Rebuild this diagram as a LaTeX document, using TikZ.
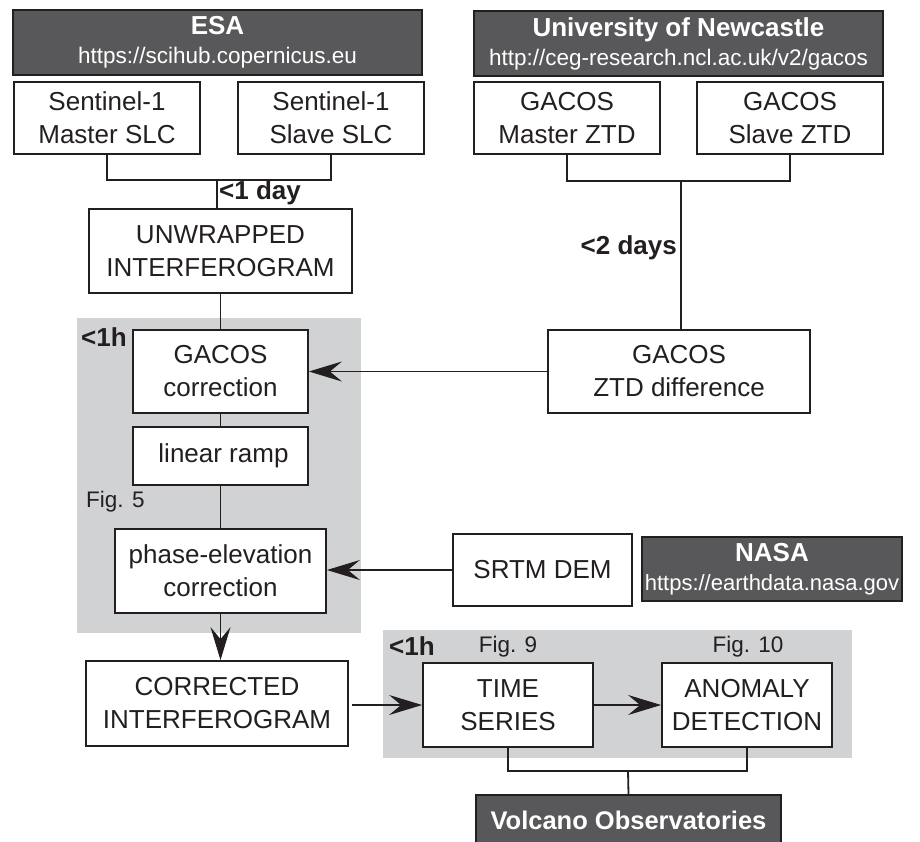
\documentclass[tikz,border=0pt]{standalone}
\usepackage{fontspec}
\setmainfont{Liberation Sans}
\usetikzlibrary{arrows.meta}
\definecolor{ink}{HTML}{231F20}
\definecolor{hdr}{HTML}{58585A}
\definecolor{zone}{HTML}{D1D2D4}
\begin{document}
\begin{tikzpicture}[x=1pt,y=-1pt,
  box/.style={draw=ink, line width=1.8pt, fill=white, inner sep=0pt, align=center, text=ink, font=\fontsize{26}{33}\selectfont},
  hdrbox/.style={draw=ink, line width=1.5pt, fill=hdr, inner sep=0pt, align=center, text=white, font=\fontsize{22.5}{29}\selectfont},
  conn/.style={draw=ink, line width=1.8pt},
  arr/.style={conn, -{Stealth[length=33pt,width=20pt,inset=12pt,line width=1pt]}},
  lbl/.style={inner sep=0pt, text=ink, font=\fontsize{26}{30}\selectfont\bfseries},
  figlbl/.style={inner sep=0pt, text=ink, font=\fontsize{22.5}{27}\selectfont},
]
\useasboundingbox (0,0) rectangle (920,841);
\fill[white] (0,0) rectangle (920,841);
% grey zones
\fill[zone] (77,318) rectangle (361,633);
\fill[zone] (383,630) rectangle (852,758);

% headers
\node[hdrbox, minimum width=409pt, minimum height=65pt] (esa) at (217.5,42.5)
  {{\fontsize{26}{29}\selectfont\bfseries ESA}\\https://scihub.copernicus.eu};
\node[hdrbox, minimum width=409pt, minimum height=65pt] (uni) at (678.5,43.5)
  {{\fontsize{26}{29}\selectfont\bfseries University of Newcastle}\\http://ceg-research.ncl.ac.uk/v2/gacos};
\node[hdrbox, minimum width=260pt, minimum height=64pt, font=\fontsize{22}{29}\selectfont] (nasa) at (772,569)
  {{\fontsize{26}{29}\selectfont\bfseries NASA}\\https://earthdata.nasa.gov};
\node[hdrbox, minimum width=305pt, minimum height=50pt, font=\fontsize{25.5}{29}\selectfont\bfseries] (volc) at (628.5,820)
  {Volcano Observatories};

% boxes
\node[box, minimum width=186pt, minimum height=72pt] (mslc) at (107,118) {Sentinel-1\\Master SLC};
\node[box, minimum width=186pt, minimum height=72pt] (sslc) at (331,118) {Sentinel-1\\Slave SLC};
\node[box, minimum width=186pt, minimum height=72pt] (mztd) at (567,118) {GACOS\\Master ZTD};
\node[box, minimum width=186pt, minimum height=72pt] (sztd) at (790,118) {GACOS\\Slave ZTD};
\node[box, minimum width=263pt, minimum height=84pt] (unw) at (220.5,251) {UNWRAPPED\\INTERFEROGRAM};
\node[box, minimum width=175pt, minimum height=83pt] (gcor) at (220.5,371.5) {GACOS\\correction};
\node[box, minimum width=175pt, minimum height=58pt] (lramp) at (220.5,456) {\hspace*{6pt}linear ramp};
\node[box, minimum width=211pt, minimum height=84pt] (pec) at (220.5,571) {phase-elevation\\correction};
\node[box, minimum width=262pt, minimum height=85pt] (cor) at (217,703.5) {CORRECTED\\INTERFEROGRAM};
\node[box, minimum width=262pt, minimum height=83pt] (ztd) at (679,371.5) {GACOS\\ZTD difference};
\node[box, minimum width=179pt, minimum height=72pt] (srtm) at (542.5,570) {SRTM DEM};
\node[box, minimum width=170pt, minimum height=84pt] (ts) at (508,705) {TIME\\SERIES};
\node[box, minimum width=170pt, minimum height=84pt] (ad) at (747,705) {ANOMALY\\DETECTION};

% junctions
\coordinate (j1) at (217,180);
\coordinate (j2) at (681,181);
\coordinate (j3) at (628,771);

% connectors
\draw[conn] (mslc.south) |- (j1) -| (sslc.south);
\draw[conn] (j1) -- (j1 |- unw.north);
\draw[conn] (mztd.south) |- (j2) -| (sztd.south);
\draw[conn] (j2) -- (j2 |- ztd.north);
\draw[conn] (unw.south) -- (gcor.north);
\draw[conn] (gcor.south) -- (lramp.north);
\draw[conn] (lramp.south) -- (pec.north);
\draw[arr] (ztd.west) -- (gcor.east);
\draw[arr] (srtm.west) -- (srtm.west -| pec.east);
\draw[arr] (pec.south) -- (pec.south |- cor.north);
\draw[arr] ([xshift=3pt]cor.east |- ts.west) -- (ts.west);
\draw[arr] (ts.east) -- (ad.west);
\draw[conn] (ts.south) |- (j3) -| (ad.south);
\draw[conn] (j3) -- (volc.north);

% labels
\node[lbl, anchor=west] (l1day) at (219,193) {<1 day};
\node[lbl, anchor=east] (l2days) at (677,248) {<2 days};
\node[lbl, anchor=west] (l1h) at (81,337) {<1h};
\node[lbl, anchor=west] (l1hb) at (389,646) {<1h};
\node[figlbl, anchor=west] (f5) at (86,502) {Fig. 5};
\node[figlbl] (f9) at (508,647) {Fig. 9};
\node[figlbl] (f10) at (748,647) {Fig. 10};
\end{tikzpicture}
\end{document}
